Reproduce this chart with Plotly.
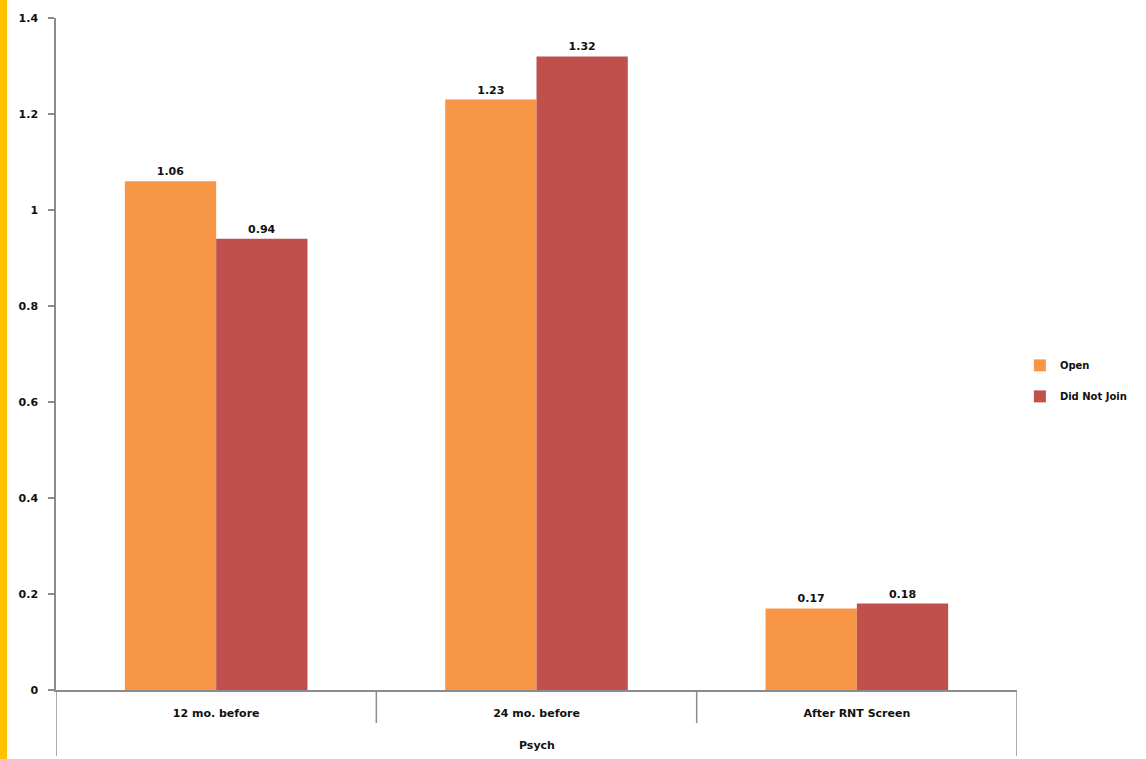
import plotly.graph_objects as go

# Chart data
categories = ["12 mo. before", "24 mo. before", "After RNT Screen"]
group_label = "Psych"
series_names = ["Open", "Did Not Join"]
open_values = [1.06, 1.23, 0.17]
did_not_join_values = [0.94, 1.32, 0.18]
y_ticks = [0, 0.2, 0.4, 0.6, 0.8, 1.0, 1.2, 1.4]
y_tick_text = ["0", "0.2", "0.4", "0.6", "0.8", "1", "1.2", "1.4"]

colors = ["#F79646", "#C0504D"]
font_family = "DejaVu Sans"
text_color = "#111111"
axis_color = "#8c8c8c"


def bold(s):
    return f"<b>{s}</b>"


W, H = 1146, 759
margin = dict(l=56, r=129, t=18, b=69)
plot_w = W - margin["l"] - margin["r"]
plot_h = H - margin["t"] - margin["b"]

fig = go.Figure()
for i, (name, vals) in enumerate(zip(series_names, [open_values, did_not_join_values])):
    fig.add_trace(go.Bar(
        x=list(range(len(categories))),
        y=vals,
        name=bold(name),
        marker=dict(color=colors[i], line=dict(width=0)),
        text=[bold(f"{v:.2f}") for v in vals],
        textposition="outside",
        textfont=dict(family=font_family, size=11, color=text_color),
        cliponaxis=False,
        legendgroup=name,
    ))

shapes = []
# Category dividers below the x axis
n = len(categories)
for k in range(1, n):
    shapes.append(dict(type="line", xref="x", yref="paper",
                       x0=k - 0.5, x1=k - 0.5, y0=0, y1=-33 / plot_h,
                       line=dict(color=axis_color, width=1.5)))
# Outer edges of the group extend to the bottom
for xe in (-0.5, n - 0.5):
    shapes.append(dict(type="line", xref="x", yref="paper",
                       x0=xe, x1=xe, y0=0, y1=-66 / plot_h,
                       line=dict(color=axis_color, width=1.5)))
# Yellow stripe along the left edge of the page
shapes.append(dict(type="rect", xref="paper", yref="paper",
                   x0=-margin["l"] / plot_w, x1=(7 - margin["l"]) / plot_w,
                   y0=-margin["b"] / plot_h, y1=1 + margin["t"] / plot_h,
                   fillcolor="#FFC000", line=dict(width=0), layer="below"))

annotations = [dict(text=bold(group_label), xref="paper", yref="paper",
                    x=0.5, y=-55 / plot_h, yanchor="middle", showarrow=False,
                    font=dict(family=font_family, size=11, color=text_color))]

fig.update_layout(
    width=W, height=H,
    margin=margin,
    paper_bgcolor="white",
    plot_bgcolor="white",
    barmode="group",
    bargap=0.43,
    bargroupgap=0,
    font=dict(family=font_family, size=11, color=text_color),
    showlegend=True,
    legend=dict(x=1.003, y=0.46, xanchor="left", yanchor="middle",
                font=dict(family=font_family, size=10, color=text_color),
                tracegroupgap=12, itemwidth=30),
    shapes=shapes,
    annotations=annotations,
    xaxis=dict(
        tickmode="array",
        tickvals=list(range(n)),
        ticktext=[bold(c) for c in categories],
        range=[-0.5, n - 0.5],
        showline=True, linecolor=axis_color, linewidth=1.5,
        ticks="", showgrid=False, zeroline=False,
        ticklabelstandoff=12,
        tickfont=dict(family=font_family, size=11, color=text_color),
    ),
    yaxis=dict(
        range=[0, 1.4],
        tickmode="array",
        tickvals=y_ticks,
        ticktext=[bold(t) for t in y_tick_text],
        showline=True, linecolor=axis_color, linewidth=1.5,
        ticks="outside", ticklen=6, tickcolor=axis_color, tickwidth=1.5,
        ticklabelstandoff=8,
        showgrid=False, zeroline=False,
        tickfont=dict(family=font_family, size=11, color=text_color),
    ),
)

fig.write_html("out.html")
